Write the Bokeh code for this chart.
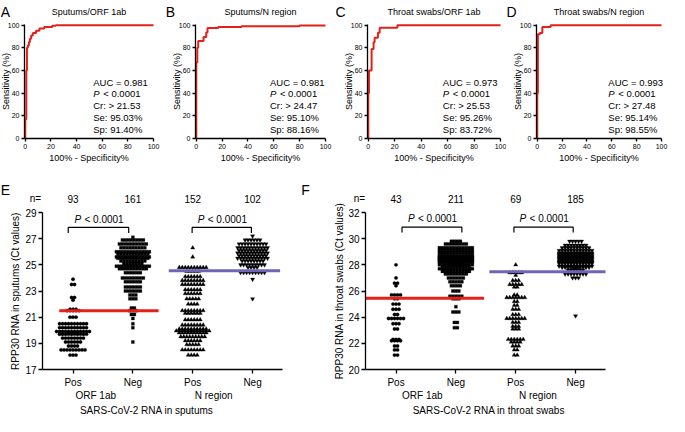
import math
from bokeh.plotting import figure
from bokeh.models import Label, FixedTicker, Range1d
from bokeh.layouts import row, column
from bokeh.embed import file_html
from bokeh.resources import INLINE

FONT = "Liberation Sans"
RED = "#e42119"
PURPLE = "#6e66b4"

# ---------------- ROC data ----------------
roc_titles = ["Sputums/ORF 1ab", "Sputums/N region", "Throat swabs/ORF 1ab", "Throat swabs/N region"]
roc_letters = ["A", "B", "C", "D"]

roc_a_fpr = [0, 0, 0.8, 0.8, 1.3, 1.3, 2.0, 2.0, 2.8, 2.8, 3.6, 3.6, 4.6, 4.6, 5.9, 5.9, 8.4, 8.4, 11.0, 11.0, 14.8, 14.8, 21.0, 21.0, 23.8, 23.8, 100]
roc_a_tpr = [0, 17, 17, 60, 60, 80, 80, 82, 82, 85, 85, 88, 88, 91, 91, 93, 93, 95, 95, 97, 97, 98.5, 98.5, 99.5, 99.5, 100, 100]
roc_b_fpr = [0, 0, 0.8, 0.8, 1.5, 1.5, 5.6, 5.6, 7.7, 7.7, 8.7, 8.7, 17, 17, 35, 35, 80, 80, 100]
roc_b_tpr = [0, 67, 67, 80, 80, 86, 86, 89.5, 89.5, 93.5, 93.5, 97.5, 97.5, 98.3, 98.3, 99.1, 99.1, 99.7, 99.7]
roc_c_fpr = [0, 0, 0.5, 0.5, 2.5, 2.5, 4, 4, 4.8, 4.8, 7.3, 7.3, 8.6, 8.6, 22, 22, 100]
roc_c_tpr = [0, 40, 40, 60, 60, 79, 79, 85, 85, 89, 89, 93.4, 93.4, 97.7, 97.7, 100, 100]
roc_d_fpr = [0, 0, 0.5, 0.5, 2, 2, 4.1, 4.1, 10.8, 10.8, 100]
roc_d_tpr = [0, 40, 40, 92, 92, 93, 93, 98.5, 98.5, 100, 100]

roc_auc = ["0.981", "0.981", "0.973", "0.993"]
roc_p = "< 0.0001"
roc_cutoff = ["21.53", "24.47", "25.53", "27.48"]
roc_se = ["95.03%", "95.10%", "95.26%", "95.14%"]
roc_sp = ["91.40%", "88.16%", "83.72%", "98.55%"]
roc_ticks = [0, 20, 40, 60, 80, 100]

# ---------------- Dot plot data (Ct values binned as read, with counts) ----------------
tick_names = ["Pos", "Neg", "Pos", "Neg"]
group_names = ["ORF 1ab", "N region"]
e_n = [93, 161, 152, 102]
f_n = [43, 211, 69, 185]
e_cut = [21.5, 24.55]
f_cut = [25.45, 27.47]
e_ticks = [17, 19, 21, 23, 25, 27, 29]
f_ticks = [20, 22, 24, 26, 28, 30, 32]

e_orf_pos_ct = [23.9, 23.5, 22.5, 22.3, 21.6, 21.5, 21.0, 20.5, 20.2, 19.9, 19.8, 19.7, 19.4, 19.1, 18.8, 18.5, 18.1]
e_orf_pos_k = [1, 2, 2, 1, 3, 5, 3, 10, 10, 12, 4, 10, 8, 6, 4, 9, 3]
e_orf_neg_ct = [27.1, 26.9, 26.6, 26.3, 26.0, 25.8, 25.6, 25.5, 25.3, 25.1, 24.9, 24.7, 24.4, 24.0, 23.7, 23.3, 23.0, 22.7, 22.4, 21.7, 21.5, 21.2, 20.9, 20.5, 20.2, 19.1]
e_orf_neg_k = [1, 8, 10, 9, 12, 11, 12, 11, 9, 7, 12, 10, 6, 8, 6, 6, 6, 3, 3, 2, 3, 2, 1, 1, 1, 1]
e_n_pos_ct = [26.3, 25.6, 24.8, 24.5, 24.1, 23.8, 23.5, 23.1, 22.8, 22.4, 22.0, 21.5, 21.3, 20.8, 20.4, 20.1, 19.95, 19.8, 19.5, 19.2, 18.9, 18.5, 18.1]
e_n_pos_k = [1, 1, 10, 5, 6, 8, 8, 6, 6, 5, 4, 8, 6, 6, 8, 10, 12, 10, 9, 6, 5, 8, 4]
e_n_neg_ct = [27.2, 26.9, 26.6, 26.3, 26.1, 25.9, 25.7, 25.5, 25.3, 25.0, 24.8, 24.4, 23.9, 22.4]
e_n_neg_k = [1, 6, 10, 11, 10, 11, 10, 11, 8, 9, 4, 9, 1, 1]

f_orf_pos_ct = [28.0, 27.0, 26.6, 26.4, 25.7, 25.4, 25.0, 24.6, 24.2, 23.9, 23.5, 23.1, 22.3, 22.2, 21.8, 21.5, 21.1]
f_orf_pos_k = [1, 1, 2, 1, 4, 2, 3, 3, 2, 6, 3, 2, 3, 4, 2, 2, 2]
f_orf_neg_ct = [29.8, 29.6, 29.3, 29.1, 28.9, 28.7, 28.6, 28.5, 28.4, 28.3, 28.2, 28.1, 28.0, 27.9, 27.7, 27.5, 27.3, 27.0, 26.7, 26.4, 26.0, 25.6, 25.4, 24.8, 24.4, 23.6, 23.2]
f_orf_neg_k = [4, 8, 12, 12, 12, 12, 12, 12, 12, 12, 12, 5, 12, 10, 12, 10, 8, 6, 5, 4, 3, 5, 3, 1, 3, 2, 2]
f_n_pos_ct = [28.0, 27.4, 27.2, 26.8, 26.5, 26.3, 25.7, 25.5, 25.2, 24.9, 24.6, 24.2, 23.9, 23.6, 23.3, 23.1, 22.3, 22.1, 21.8, 21.5, 21.1]
f_n_pos_k = [1, 5, 1, 3, 5, 2, 2, 7, 2, 2, 3, 3, 7, 3, 3, 3, 6, 4, 3, 2, 2]
f_n_neg_ct = [29.8, 29.5, 29.3, 29.1, 28.9, 28.8, 28.7, 28.6, 28.5, 28.4, 28.3, 28.2, 28.1, 27.9, 27.8, 27.7, 27.6, 27.3, 27.0, 24.1]
f_n_neg_k = [5, 8, 10, 12, 12, 12, 12, 12, 12, 12, 12, 12, 12, 12, 10, 2, 6, 8, 3, 1]


def span(total, p0, p1, d0, d1):
    """Range whose value d0 falls at pixel p0 and d1 at pixel p1 (pixels from left)."""
    s = (d1 - d0) / (p1 - p0)
    start = d0 - p0 * s
    return Range1d(start, start + total * s)


def vspan(total, p_top, p_bot, d_top, d_bot):
    """Vertical range: d_top at pixel p_top from top, d_bot at p_bot."""
    s = (d_top - d_bot) / (p_bot - p_top)
    start = d_bot - (total - p_bot) * s
    return Range1d(start, start + total * s)


def make_fig(w, h, xr, yr):
    p = figure(width=w, height=h, x_range=xr, y_range=yr, output_backend="svg",
               toolbar_location=None, min_border=0)
    p.min_border_left = p.min_border_right = p.min_border_top = p.min_border_bottom = 0
    p.xgrid.grid_line_color = None
    p.ygrid.grid_line_color = None
    p.outline_line_color = None
    return p


def style_axes(p, size, tick_out, ax, ay):
    p.xaxis.fixed_location = ay[0]
    p.xaxis.bounds = ax
    p.yaxis.fixed_location = ax[0]
    p.yaxis.bounds = ay
    for a in (p.xaxis[0], p.yaxis[0]):
        a.axis_line_color = "black"
        a.axis_line_width = 1.3
        a.major_tick_line_color = "black"
        a.major_tick_line_width = 1.3
        a.major_tick_out = tick_out
        a.major_tick_in = 0
        a.minor_tick_line_color = None
        a.major_label_text_font = FONT
        a.major_label_text_font_size = size
        a.major_label_text_color = "black"
        a.major_label_standoff = 2


def lab(p, x, y, text, size, **kw):
    opts = dict(text_font=FONT, text_font_size=size, text_color="black",
                text_align="center", text_baseline="middle")
    opts.update(kw)
    p.add_layout(Label(x=x, y=y, text=text, **opts))


ROC_H = 176
ROC_TOP = 24   # pixel of y=100
ROC_BOT = 138  # pixel of y=0


def roc_fig(i, fpr, tpr, width, left, right, letter_dx, stat_x):
    ax = (-0.6, 100)
    ay = (0, 100.6)
    xr = span(width, left, right, ax[0], ax[1])
    yr = vspan(ROC_H, ROC_TOP, ROC_BOT, ay[1], ay[0])
    p = make_fig(width, ROC_H, xr, yr)
    style_axes(p, "7px", 3, ax, ay)
    p.xaxis.ticker = FixedTicker(ticks=roc_ticks)
    p.yaxis.ticker = FixedTicker(ticks=roc_ticks)
    p.line(fpr, tpr, line_color=RED, line_width=2)
    cx = (ax[0] + ax[1]) / 2
    lab(p, cx, ay[1], roc_titles[i], "9px", y_offset=13)
    lab(p, ax[0], ay[1], roc_letters[i], "14px", x_offset=letter_dx, y_offset=12.5, text_baseline="alphabetic")
    lab(p, ax[0], (ay[0] + ay[1]) / 2, "Sensitivity (%)", "9px", x_offset=-19, angle=math.pi / 2)
    lab(p, cx, ay[0], "100% - Specificity%", "9px", y_offset=-19)
    ys = [49.7, 39.3, 28.9, 18.5, 8.2]
    lab(p, stat_x, ys[0], "AUC = " + roc_auc[i], "9.5px", text_align="left")
    lab(p, stat_x, ys[1], "P", "9.5px", text_align="left", text_font_style="italic")
    lab(p, stat_x, ys[1], roc_p, "9.5px", text_align="left", x_offset=10)
    lab(p, stat_x, ys[2], "Cr: > " + roc_cutoff[i], "9.5px", text_align="left")
    lab(p, stat_x, ys[3], "Se: " + roc_se[i], "9.5px", text_align="left")
    lab(p, stat_x, ys[4], "Sp: " + roc_sp[i], "9.5px", text_align="left")
    return p


pA = roc_fig(0, roc_a_fpr, roc_a_tpr, 165, 24, 153, -19, 53)
pB = roc_fig(1, roc_b_fpr, roc_b_tpr, 170, 30, 160, -25, 57)
pC = roc_fig(2, roc_c_fpr, roc_c_tpr, 171, 32, 165, -27, 56.4)
pD = roc_fig(3, roc_d_fpr, roc_d_tpr, 163, 30, 155, -25, 57.2)


def swarm(center, cts, counts, dx=0.05):
    xs, ys = [], []
    for ct, k in zip(cts, counts):
        for j in range(k):
            xs.append(center + (j - (k - 1) / 2) * dx)
            ys.append(ct)
    return xs, ys


DOT_H = 240
DOT_TOP = 36
DOT_BOT = 193


def dot_fig(width, left, right, ay, ticks, groups, ns, cuts, cut_spans, brackets, ptext_y,
            letter, letter_dx, ylabel, xlabel, xlabel_x, group_x, ylabel_dx, n_x):
    ax = (0.49, 4.5)
    xr = span(width, left, right, ax[0], ax[1])
    yr = vspan(DOT_H, DOT_TOP, DOT_BOT, ay[1], ay[0])
    p = make_fig(width, DOT_H, xr, yr)
    style_axes(p, "10px", 4, ax, ay)
    p.xaxis.major_label_standoff = 3
    p.xaxis.ticker = FixedTicker(ticks=[1, 2, 3, 4])
    p.xaxis.major_label_overrides = {1: tick_names[0], 2: tick_names[1], 3: tick_names[2], 4: tick_names[3]}
    p.yaxis.ticker = FixedTicker(ticks=ticks)
    markers = ["circle", "square", "triangle", "inverted_triangle"]
    sizes = [3.4, 3.0, 4.2, 4.2]
    for k, (cts, cnt) in enumerate(groups):
        xs, ys = swarm(k + 1, cts, cnt)
        p.scatter(xs, ys, marker=markers[k], size=sizes[k], fill_color="black", line_color="black", line_width=0.3)
    for (cut, (sx0, sx1), col) in zip(cuts, cut_spans, [RED, PURPLE]):
        p.line([sx0, sx1], [cut, cut], line_color=col, line_width=3)
    for (bx0, bx1, by, bd) in brackets:
        p.line([bx0, bx0, bx1, bx1], [by - bd, by, by, by - bd], line_color="black", line_width=1.2)
        cx = (bx0 + bx1) / 2
        lab(p, cx, ptext_y, "P", "10px", text_align="left", text_font_style="italic", x_offset=-24)
        lab(p, cx, ptext_y, "< 0.0001", "10px", text_align="left", x_offset=-14)
    lab(p, ax[0], ay[1], "n=", "10px", x_offset=n_x, y_offset=14)
    for k, n in enumerate(ns):
        lab(p, k + 1, ay[1], str(n), "10px", y_offset=14)
    lab(p, ax[0], ay[1], letter, "14px", x_offset=letter_dx, y_offset=23, text_baseline="alphabetic")
    lab(p, ax[0], (ay[0] + ay[1]) / 2, ylabel, "10px", x_offset=ylabel_dx, angle=math.pi / 2)
    lab(p, group_x[0], ay[0], group_names[0], "10px", y_offset=-26)
    lab(p, group_x[1], ay[0], group_names[1], "10px", y_offset=-26)
    lab(p, xlabel_x, ay[0], xlabel, "10px", y_offset=-41)
    return p


pE = dot_fig(300, 42, 282, (17, 29), e_ticks,
             [(e_orf_pos_ct, e_orf_pos_k), (e_orf_neg_ct, e_orf_neg_k), (e_n_pos_ct, e_n_pos_k), (e_n_neg_ct, e_n_neg_k)],
             e_n, e_cut, [(0.77, 2.43), (2.6, 4.46)],
             [(0.92, 1.93, 27.86, 0.43), (2.99, 3.98, 27.86, 0.43)], 28.45,
             "E", -37, "RPP30 RNA in sputums (Ct values)", "SARS-CoV-2 RNA in sputums", 2.23, (1.38, 3.35), -27, -7)

pF = dot_fig(369, 65, 305, (20, 32), f_ticks,
             [(f_orf_pos_ct, f_orf_pos_k), (f_orf_neg_ct, f_orf_neg_k), (f_n_pos_ct, f_n_pos_k), (f_n_neg_ct, f_n_neg_k)],
             f_n, f_cut, [(0.49, 2.47), (2.56, 4.5)],
             [(1.1, 2.1, 30.88, 0.4), (2.97, 3.96, 30.88, 0.4)], 31.52,
             "F", -60, "RPP30 RNA in throat swabs (Ct values)", "SARS-CoV-2 RNA in throat swabs", 2.55, (1.44, 3.37), -26, -6)

layout = column(row(pA, pB, pC, pD), row(pE, pF))
open("out.html", "w").write(file_html(layout, INLINE))
